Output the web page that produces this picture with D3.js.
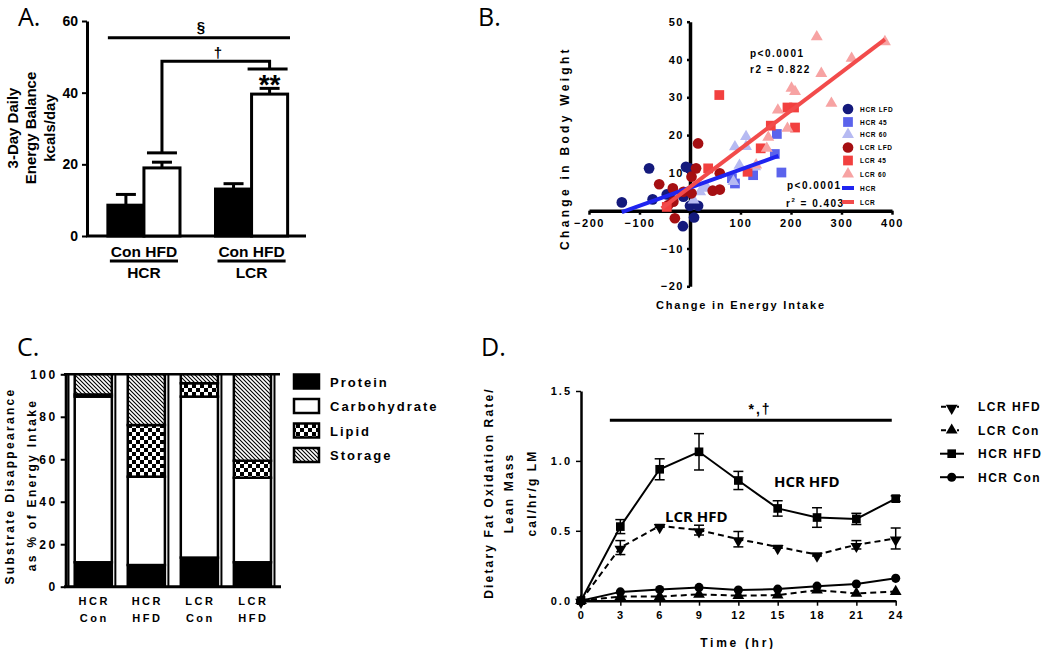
<!DOCTYPE html>
<html>
<head>
<meta charset="utf-8">
<script src="https://cdn.jsdelivr.net/npm/d3@7"></script>
<style>
  body { margin: 0; background: #fff; }
  text { font-family: "Liberation Sans", Arial, sans-serif; font-weight: bold; fill: #000; }
</style>
</head>
<body>
<div id="chart"></div>
<script>
// ---- Panel A: energy balance ----
const aGroups = ["HCR", "LCR"];
const aDiets = ["Con", "HFD"];
const aMeans = [[8.6, 19.0], [13.1, 39.6]];
const aSem = [[3.0, 1.6], [1.5, 1.6]];
const aTicks = [0, 20, 40, 60];
// § level, † level, † left drop, † right drop
const aSigLevels = [55.3, 48.8, 23.2, 46.6];

// ---- Panel B: scatter ----
const bHcrLfd = [[-135, 2.2], [-81, 11.2], [-74, 3], [-46, 4.3], [-34, 2.8], [-13, 3.7], [-8, 11.6], [-1, 11.2], [0, 1.3], [16, 1.3], [8, -1.8], [-14, -4.1]];
const bHcr45 = [[83, 8.6], [89, 7.2], [125, 9.4], [168, 15], [172, 20.3], [181, 10.1]];
const bHcr60 = [[7, 2.8], [20, 5], [26, 5.9], [33, 6.3], [86, 7.7], [89, 16.9], [98, 12], [111, 19.6], [111, 17], [129, 11.6]];
const bLcrLfd = [[-61, 7], [-43, 1.5], [-34, 5.9], [-33, 2.4], [-30, -2], [-13, 5], [3, 4.6], [3, 9], [12, 11.2], [16, 17.8], [45, 5.3], [59, 5.6], [59, 9.9]];
const bLcr45 = [[-46, 1], [36, 11.2], [58, 30.6], [114, 10.3], [140, 16.5], [160, 22.5], [193, 27.3], [206, 27.3], [208, 22]];
const bLcr60 = [[131, 12.1], [152, 16.5], [155, 19.4], [174, 26.6], [193, 21.8], [201, 32.4], [208, 31.5], [251, 46], [260, 36.3], [280, 28.4], [320, 40.3], [386, 44.7]];
const bFitHcr = [[-135, -0.4], [175, 14.5]];
const bFitLcr = [[-56, 0.6], [386, 45.3]];
const bXTicks = [-200, -100, 100, 200, 300, 400];
const bYTicks = [-20, -10, 10, 20, 30, 40, 50];
const bLegend = ["HCR LFD", "HCR 45", "HCR 60", "LCR LFD", "LCR 45", "LCR 60", "HCR", "LCR"];

// ---- Panel C: substrate disappearance ----
const cCats = ["HCR Con", "HCR HFD", "LCR Con", "LCR HFD"];
const cKeys = ["Protein", "Carbohydrate", "Lipid", "Storage"];
const cProtein = [11.5, 10.2, 13.7, 11.5];
const cCarb = [78.0, 41.6, 75.8, 39.8];
const cLipid = [1.0, 24.3, 6.3, 8.0];
const cStorage = [9.5, 23.9, 4.2, 40.7];
const cTicks = [0, 20, 40, 60, 80, 100];

// ---- Panel D: dietary fat oxidation ----
const dTime = [0, 3, 6, 9, 12, 15, 18, 21, 24];
const dLcrHfd = [0, 0.38, 0.535, 0.505, 0.44, 0.385, 0.33, 0.40, 0.445];
const dLcrHfdSem = [0, 0.05, 0.01, 0.035, 0.055, 0.01, 0.01, 0.03, 0.075];
const dLcrCon = [0, 0.03, 0.03, 0.045, 0.036, 0.04, 0.075, 0.052, 0.065];
const dHcrHfd = [0, 0.53, 0.94, 1.065, 0.86, 0.66, 0.595, 0.585, 0.73];
const dHcrHfdSem = [0, 0.05, 0.075, 0.13, 0.065, 0.055, 0.07, 0.04, 0.02];
const dHcrCon = [0, 0.063, 0.08, 0.095, 0.076, 0.083, 0.104, 0.12, 0.16];
const dYTicks = [0, 0.5, 1.0, 1.5];
const dSig = [2.2, 23.7, 1.29];

const svg = d3.select("#chart").append("svg")
  .attr("width", 1050).attr("height", 649);

const defs = svg.append("defs");
const checker = defs.append("pattern").attr("id", "checker")
  .attr("patternUnits", "userSpaceOnUse").attr("width", 8).attr("height", 8);
checker.append("rect").attr("width", 8).attr("height", 8).attr("fill", "#fff");
checker.append("rect").attr("width", 4).attr("height", 4).attr("fill", "#000");
checker.append("rect").attr("x", 4).attr("y", 4).attr("width", 4).attr("height", 4).attr("fill", "#000");
const hatch = defs.append("pattern").attr("id", "hatch")
  .attr("patternUnits", "userSpaceOnUse").attr("width", 4).attr("height", 4);
hatch.append("rect").attr("width", 4).attr("height", 4).attr("fill", "#fff");
hatch.append("path").attr("d", "M0,0L4,4M-1,3L1,5M3,-1L5,1")
  .attr("stroke", "#000").attr("stroke-width", 1.1);

function panelLabel(t, x, y) {
  svg.append("text").attr("x", x).attr("y", y).text(t)
    .style("font-family", '"Open Sans", sans-serif').style("font-weight", "normal")
    .style("font-size", "25px");
}
function styleAxis(g, width, size, spacing) {
  g.select(".domain").attr("stroke", "#000").attr("stroke-width", width);
  g.selectAll(".tick line").attr("stroke", "#000").attr("stroke-width", Math.max(1.5, width - 1));
  g.selectAll(".tick text").style("font-size", size + "px")
    .style("letter-spacing", spacing + "px").attr("fill", "#000");
}
function rotLabel(t, x, y, size, spacing) {
  return svg.append("text").attr("transform", `translate(${x},${y}) rotate(-90)`)
    .attr("text-anchor", "middle").attr("dominant-baseline", "central")
    .style("font-size", size + "px").style("letter-spacing", spacing + "px").text(t);
}

// ================= Panel A =================
panelLabel("A.", 18, 26);
const ay = d3.scaleLinear().domain([0, 60]).range([236, 21]);
const ax = d3.scaleBand().domain(aGroups).range([88.5, 307]).paddingInner(0.33).paddingOuter(0.18);
const axIn = d3.scaleBand().domain(aDiets).range([0, ax.bandwidth()]);

const aYAxis = svg.append("g").attr("transform", "translate(87,0)")
  .call(d3.axisLeft(ay).tickValues(aTicks).tickSize(5).tickSizeOuter(0).tickPadding(4));
styleAxis(aYAxis, 3, 14, 0);
svg.append("line").attr("x1", 86).attr("x2", 306).attr("y1", ay(0)).attr("y2", ay(0))
  .attr("stroke", "#000").attr("stroke-width", 3);

aGroups.forEach((g, gi) => {
  aDiets.forEach((d, di) => {
    const x0 = ax(g) + axIn(d), w = axIn.bandwidth(), cxm = x0 + w / 2;
    const v = aMeans[gi][di], e = aSem[gi][di];
    svg.append("line").attr("x1", cxm).attr("x2", cxm).attr("y1", ay(v)).attr("y2", ay(v + e))
      .attr("stroke", "#000").attr("stroke-width", 3);
    svg.append("line").attr("x1", cxm - 10).attr("x2", cxm + 10).attr("y1", ay(v + e)).attr("y2", ay(v + e))
      .attr("stroke", "#000").attr("stroke-width", 3);
    svg.append("rect").attr("x", x0).attr("y", ay(v)).attr("width", w).attr("height", ay(0) - ay(v))
      .attr("fill", di === 0 ? "#000" : "#fff").attr("stroke", "#000").attr("stroke-width", 3);
  });
  const gc = ax(g) + ax.bandwidth() / 2;
  svg.append("text").attr("x", gc).attr("y", 257).attr("text-anchor", "middle")
    .style("font-size", "15.5px").text("Con HFD");
  svg.append("line").attr("x1", ax(g) + 2).attr("x2", ax(g) + ax.bandwidth() - 2)
    .attr("y1", 261).attr("y2", 261).attr("stroke", "#000").attr("stroke-width", 3);
  svg.append("text").attr("x", gc).attr("y", 278).attr("text-anchor", "middle")
    .style("font-size", "15.5px").text(g);
});
// significance marks
const hfdHcrX = ax("HCR") + axIn("HFD") + axIn.bandwidth() / 2;
const hfdLcrX = ax("LCR") + axIn("HFD") + axIn.bandwidth() / 2;
svg.append("line").attr("x1", ax("HCR")).attr("x2", 290)
  .attr("y1", ay(aSigLevels[0])).attr("y2", ay(aSigLevels[0])).attr("stroke", "#000").attr("stroke-width", 3);
svg.append("text").attr("x", 201).attr("y", ay(aSigLevels[0]) - 6).attr("text-anchor", "middle")
  .style("font-size", "15px").text("§");
svg.append("path")
  .attr("d", `M${hfdHcrX},${ay(aSigLevels[2])}V${ay(aSigLevels[1])}H${hfdLcrX}V${ay(aSigLevels[3])}`)
  .attr("fill", "none").attr("stroke", "#000").attr("stroke-width", 3);
svg.append("line").attr("x1", hfdHcrX - 15).attr("x2", hfdHcrX + 15)
  .attr("y1", ay(aSigLevels[2])).attr("y2", ay(aSigLevels[2])).attr("stroke", "#000").attr("stroke-width", 3);
svg.append("line").attr("x1", hfdLcrX - 22).attr("x2", hfdLcrX + 18)
  .attr("y1", ay(aSigLevels[3])).attr("y2", ay(aSigLevels[3])).attr("stroke", "#000").attr("stroke-width", 3);
svg.append("text").attr("x", 218).attr("y", ay(aSigLevels[1]) - 3).attr("text-anchor", "middle")
  .style("font-size", "15px").text("†");
svg.append("text").attr("x", hfdLcrX).attr("y", 94).attr("text-anchor", "middle")
  .style("font-size", "28px").text("**");
rotLabel("3-Day Daily", 12, 128, 15, 0);
rotLabel("Energy Balance", 30, 128, 15, 0);
rotLabel("kcals/day", 49, 128, 15, 0);

// ================= Panel B =================
panelLabel("B.", 478, 26);
const bx = d3.scaleLinear().domain([-200, 400]).range([589, 892]);
const by = d3.scaleLinear().domain([-20, 50]).range([286.3, 21.7]);

const bXAxis = svg.append("g").attr("transform", `translate(0,${by(0)})`)
  .call(d3.axisBottom(bx).tickValues(bXTicks).tickSize(4).tickSizeOuter(0).tickPadding(5));
styleAxis(bXAxis, 3.5, 11, 1.5);
const bYAxis = svg.append("g").attr("transform", `translate(${bx(0)},0)`)
  .call(d3.axisLeft(by).tickValues(bYTicks).tickSize(3).tickSizeOuter(0).tickPadding(3));
styleAxis(bYAxis, 3.5, 11, 1.5);

const bSeries = [
  {pts: bHcrLfd, sym: d3.symbolCircle, size: 90, color: "#141a7c"},
  {pts: bHcr45, sym: d3.symbolSquare, size: 95, color: "#5b63ec"},
  {pts: bHcr60, sym: d3.symbolTriangle, size: 62, color: "#b6baf2"},
  {pts: bLcrLfd, sym: d3.symbolCircle, size: 90, color: "#a50f12"},
  {pts: bLcr45, sym: d3.symbolSquare, size: 95, color: "#f2403f"},
  {pts: bLcr60, sym: d3.symbolTriangle, size: 62, color: "#f7a3a3"}
];
bSeries.forEach(s => {
  svg.append("g").selectAll("path").data(s.pts).enter().append("path")
    .attr("transform", d => `translate(${bx(d[0])},${by(d[1])})`)
    .attr("d", d3.symbol().type(s.sym).size(s.size)).attr("fill", s.color);
});
const bLine = d3.line().x(d => bx(d[0])).y(d => by(d[1]));
svg.append("path").attr("d", bLine(bFitHcr)).attr("stroke", "#1f24f0").attr("stroke-width", 4).attr("fill", "none");
svg.append("path").attr("d", bLine(bFitLcr)).attr("stroke", "#f24b4b").attr("stroke-width", 4).attr("fill", "none");

svg.append("text").attr("x", 750).attr("y", 57).style("font-size", "10px").style("letter-spacing", "1.5px").text("p<0.0001");
svg.append("text").attr("x", 750).attr("y", 73).style("font-size", "10px").style("letter-spacing", "1.5px").text("r2 = 0.822");
svg.append("text").attr("x", 787).attr("y", 189).style("font-size", "10px").style("letter-spacing", "1.5px").text("p<0.0001");
const r2 = svg.append("text").attr("x", 786).attr("y", 207).style("font-size", "10px").style("letter-spacing", "1.5px");
r2.append("tspan").text("r");
r2.append("tspan").attr("dy", -5).style("font-size", "6px").text("2");
r2.append("tspan").attr("dy", 5).text(" = 0.403");

const bLegRows = [109, 122, 134.5, 147.5, 160.5, 174, 188, 202];
bLegend.forEach((name, i) => {
  const y = bLegRows[i];
  if (i < 6) {
    const s = bSeries[i];
    svg.append("path").attr("transform", `translate(848,${y})`)
      .attr("d", d3.symbol().type(s.sym).size(s.size)).attr("fill", s.color);
  } else {
    svg.append("line").attr("x1", 842).attr("x2", 854).attr("y1", y).attr("y2", y)
      .attr("stroke", i === 6 ? "#1f24f0" : "#f24b4b").attr("stroke-width", 4);
  }
  svg.append("text").attr("x", 860).attr("y", y + 2.5).style("font-size", "6.5px")
    .style("letter-spacing", "0.7px").text(name);
});
rotLabel("Change in Body Weight", 565, 148, 12, 3.3);
svg.append("text").attr("x", 741).attr("y", 309).attr("text-anchor", "middle")
  .style("font-size", "11px").style("letter-spacing", "1.8px").text("Change in Energy Intake");

// ================= Panel C =================
panelLabel("C.", 17, 356);
const cx = d3.scaleBand().domain(cCats).range([65.7, 280]).paddingInner(0.3).paddingOuter(0.17);
const cy = d3.scaleLinear().domain([0, 100]).range([586.7, 374.3]);
const cRows = cCats.map((c, i) => ({cat: c, Protein: cProtein[i], Carbohydrate: cCarb[i], Lipid: cLipid[i], Storage: cStorage[i]}));
const cStack = d3.stack().keys(cKeys)(cRows);
const cFill = {Protein: "#000", Carbohydrate: "#fff", Lipid: "url(#checker)", Storage: "url(#hatch)"};

// thin separators and frame
cCats.forEach(c => {
  const xr = cx(c) + cx.bandwidth() + 3.5;
  svg.append("line").attr("x1", xr).attr("x2", xr).attr("y1", cy(100)).attr("y2", cy(0))
    .attr("stroke", "#000").attr("stroke-width", 2);
});
svg.append("line").attr("x1", 68.5).attr("x2", 68.5).attr("y1", cy(100)).attr("y2", cy(0))
  .attr("stroke", "#000").attr("stroke-width", 2);
svg.append("line").attr("x1", 64).attr("x2", 280).attr("y1", cy(100)).attr("y2", cy(100))
  .attr("stroke", "#000").attr("stroke-width", 2.5);

cStack.forEach(layer => {
  svg.append("g").selectAll("rect").data(layer).enter().append("rect")
    .attr("x", d => cx(d.data.cat)).attr("width", cx.bandwidth())
    .attr("y", d => cy(d[1])).attr("height", d => cy(d[0]) - cy(d[1]))
    .attr("fill", cFill[layer.key]).attr("stroke", "#000").attr("stroke-width", 2.5);
});
const cYAxis = svg.append("g").attr("transform", "translate(65.7,0)")
  .call(d3.axisLeft(cy).tickValues(cTicks).tickSize(5).tickSizeOuter(0).tickPadding(3));
styleAxis(cYAxis, 3, 12, 2.5);
svg.append("line").attr("x1", 64).attr("x2", 281).attr("y1", cy(0)).attr("y2", cy(0))
  .attr("stroke", "#000").attr("stroke-width", 3);
cCats.forEach(c => {
  const parts = c.split(" ");
  const xm = cx(c) + cx.bandwidth() / 2 + 1;
  svg.append("text").attr("x", xm).attr("y", 605).attr("text-anchor", "middle")
    .style("font-size", "11px").style("letter-spacing", "2.5px").text(parts[0]);
  svg.append("text").attr("x", xm).attr("y", 622).attr("text-anchor", "middle")
    .style("font-size", "11px").style("letter-spacing", "2.5px").text(parts[1]);
});
cKeys.forEach((k, i) => {
  const y = 381.5 + i * 24.5;
  svg.append("rect").attr("x", 294).attr("y", y - 7).attr("width", 25).attr("height", 14)
    .attr("fill", cFill[k]).attr("stroke", "#000").attr("stroke-width", 2.5);
  svg.append("text").attr("x", 330).attr("y", y + 5).style("font-size", "13px")
    .style("letter-spacing", "2px").text(k);
});
rotLabel("Substrate Disappearance", 10, 486, 12, 2.3);
rotLabel("as % of Energy Intake", 32, 485, 12, 2.3);

// ================= Panel D =================
panelLabel("D.", 481, 356);
const dx = d3.scaleLinear().domain([0, 24]).range([581, 895.7]);
const dy = d3.scaleLinear().domain([0, 1.5]).range([600.7, 391]);
const dYAxis = svg.append("g").attr("transform", "translate(581,0)")
  .call(d3.axisLeft(dy).tickValues(dYTicks).tickFormat(d3.format(".1f")).tickSize(5).tickSizeOuter(0).tickPadding(4));
styleAxis(dYAxis, 2.5, 11, 2);
const dXAxis = svg.append("g").attr("transform", `translate(0,${dy(0)})`)
  .call(d3.axisBottom(dx).tickValues(dTime).tickSize(5).tickSizeOuter(0).tickPadding(6));
styleAxis(dXAxis, 2.5, 11, 1.5);

svg.append("line").attr("x1", dx(dSig[0])).attr("x2", dx(dSig[1])).attr("y1", dy(dSig[2])).attr("y2", dy(dSig[2]))
  .attr("stroke", "#000").attr("stroke-width", 3);
svg.append("text").attr("x", 760).attr("y", 414).attr("text-anchor", "middle")
  .style("font-size", "14px").style("letter-spacing", "2px").text("*,†");

const dSeries = [
  {name: "LCR HFD", vals: dLcrHfd, sem: dLcrHfdSem, sym: d3.symbolTriangle, rot: 180, size: 60, dash: "6,4"},
  {name: "LCR Con", vals: dLcrCon, sem: null, sym: d3.symbolTriangle, rot: 0, size: 60, dash: "6,4"},
  {name: "HCR HFD", vals: dHcrHfd, sem: dHcrHfdSem, sym: d3.symbolSquare, rot: 0, size: 75, dash: null},
  {name: "HCR Con", vals: dHcrCon, sem: null, sym: d3.symbolCircle, rot: 0, size: 65, dash: null}
];
const dLine = d3.line().x((d, i) => dx(dTime[i])).y(d => dy(d));
dSeries.forEach(s => {
  svg.append("path").attr("d", dLine(s.vals)).attr("fill", "none").attr("stroke", "#000")
    .attr("stroke-width", 2).attr("stroke-dasharray", s.dash);
  if (s.sem) {
    s.vals.forEach((v, i) => {
      if (!s.sem[i]) return;
      const x = dx(dTime[i]);
      svg.append("line").attr("x1", x).attr("x2", x).attr("y1", dy(v - s.sem[i])).attr("y2", dy(v + s.sem[i]))
        .attr("stroke", "#000").attr("stroke-width", 1.5);
      [v - s.sem[i], v + s.sem[i]].forEach(e => {
        svg.append("line").attr("x1", x - 5).attr("x2", x + 5).attr("y1", dy(e)).attr("y2", dy(e))
          .attr("stroke", "#000").attr("stroke-width", 1.5);
      });
    });
  }
  svg.append("g").selectAll("path").data(s.vals).enter().append("path")
    .attr("transform", (d, i) => `translate(${dx(dTime[i])},${dy(d) + (s.rot ? 1.5 : 0)}) rotate(${s.rot})`)
    .attr("d", d3.symbol().type(s.sym).size(s.size)).attr("fill", "#000");
});
svg.append("text").attr("x", 774).attr("y", 487).style("font-family", '"Open Sans", sans-serif')
  .style("font-size", "15px").text("HCR HFD");
svg.append("text").attr("x", 665).attr("y", 522).style("font-family", '"Open Sans", sans-serif')
  .style("font-size", "15px").text("LCR HFD");

dSeries.forEach((s, i) => {
  const y = 406.7 + i * 23.5;
  svg.append("line").attr("x1", s.dash ? 941 : 940).attr("x2", 964).attr("y1", y).attr("y2", y)
    .attr("stroke", "#000").attr("stroke-width", 2).attr("stroke-dasharray", s.dash ? "5,4,3,4,2,6" : null);
  svg.append("path").attr("transform", `translate(951.7,${y + (s.rot ? 1.5 : 0)}) rotate(${s.rot})`)
    .attr("d", d3.symbol().type(s.sym).size(s.size)).attr("fill", "#000");
  svg.append("text").attr("x", 978).attr("y", y + 4.5).style("font-size", "12px")
    .style("letter-spacing", "1.5px").text(s.name);
});
rotLabel("Dietary Fat Oxidation Rate/", 489, 493, 12, 2.15);
rotLabel("Lean Mass", 509, 493, 12, 2.15);
rotLabel("cal/hr/g LM", 532, 493, 12, 2.15);
svg.append("text").attr("x", 738).attr("y", 647).attr("text-anchor", "middle")
  .style("font-size", "12px").style("letter-spacing", "2.7px").text("Time (hr)");
</script>
</body>
</html>
